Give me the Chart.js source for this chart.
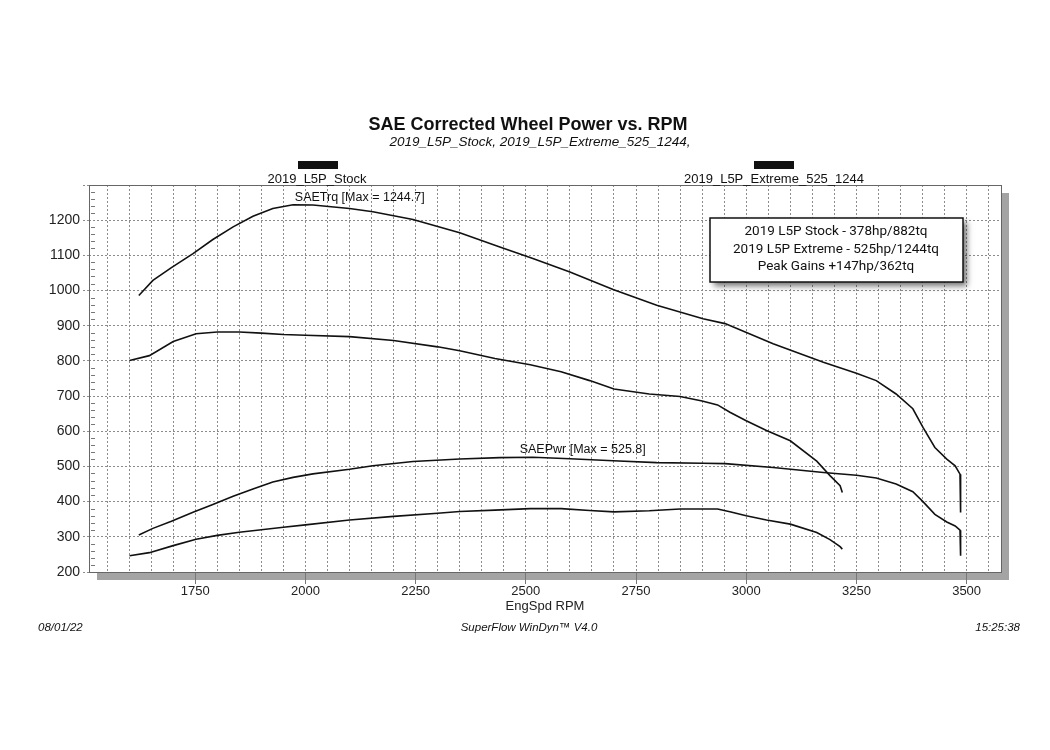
<!DOCTYPE html>
<html lang="en">
<head>
    <meta charset="UTF-8">
    <title>SAE Corrected Wheel Power vs. RPM</title>
    <script src="https://cdn.jsdelivr.net/npm/chart.js"></script>
    <style>
        body { margin: 0; background: #fff; }
    </style>
</head>
<body>
    <canvas id="myChart" width="1050" height="750"></canvas>
    <script>
        const ctx = document.getElementById('myChart').getContext('2d');

        // Stock run
        const stockRpm = [1601, 1646, 1700, 1752, 1800, 1850, 1900, 1950, 2000, 2100, 2200, 2300, 2350, 2430, 2510,
            2580, 2645, 2700, 2780, 2850, 2900, 2935, 2963, 3000, 3046, 3100, 3160, 3190, 3213, 3218];
        const stockTrq = [801, 815, 855, 877, 882, 882, 879, 875, 873, 869, 858, 840, 829, 807, 789,
            769, 744, 720, 706, 699, 686, 675, 654, 630, 602, 573, 515, 474, 445, 426];
        const stockPwr = [246, 255, 275, 293, 304, 313, 320, 327, 334, 348, 358, 367, 372, 376, 380,
            380, 375, 371, 374, 379, 379, 379, 371, 360, 348, 336, 312, 292, 272, 265];

        // Extreme tune run
        const extRpm = [1622, 1654, 1696, 1745, 1790, 1836, 1881, 1926, 1972, 2017, 2100, 2153, 2244, 2350, 2441,
            2516, 2600, 2698, 2797, 2902, 2952, 3061, 3175, 3250, 3295, 3340, 3378, 3401, 3428, 3455,
            3474, 3485, 3487, 3487, 3485];
        const extTrq = [986, 1029, 1065, 1105, 1145, 1181, 1211, 1233, 1244, 1243, 1233, 1224, 1202, 1164, 1124,
            1091, 1053, 1003, 958, 920, 906, 849, 796, 765, 744, 706, 664, 611, 554, 521,
            502, 478, 431, 400, 369];
        const extPwr = [305, 324, 344, 370, 392, 415, 436, 456, 469, 479, 492, 502, 514, 521, 525,
            526, 522, 516, 511, 509, 508, 497, 483, 475, 467, 450, 428, 400, 364, 342,
            331, 319, 288, 266, 246];

        const runNames = ['2019_L5P_Stock', '2019_L5P_Extreme_525_1244'];
        const infoLines = ['2019 L5P Stock - 378hp/882tq', '2019 L5P Extreme - 525hp/1244tq', 'Peak Gains +147hp/362tq'];

        const pts = (xs, ys) => xs.map((x, i) => ({ x: x, y: ys[i] }));
        const baseFont = '"Liberation Sans", Arial, sans-serif';

        // Extra drawing: frame, drop shadows, headings, legend bars, info box, footer
        const decorPlugin = {
            id: 'decor',
            beforeDraw: (chart) => {
                const c = chart.ctx;
                const a = chart.chartArea;
                c.save();
                c.fillStyle = '#a4a4a4';
                c.fillRect(a.left + 8, a.bottom, a.right - a.left, 8);
                c.fillRect(a.right, a.top + 8, 8, a.bottom - a.top);
                c.restore();
            },
            afterDraw: (chart) => {
                const c = chart.ctx;
                const a = chart.chartArea;
                const xs = chart.scales.x;
                const ys = chart.scales.y;
                c.save();

                // plot frame
                c.strokeStyle = '#666';
                c.lineWidth = 1;
                c.strokeRect(a.left + 0.5, a.top + 0.5, a.right - a.left, a.bottom - a.top);

                // small minor ticks inside the left edge
                c.strokeStyle = '#777';
                for (let v = 220; v < 1300; v += 20) {
                    if (v % 100 === 0) continue;
                    const y = Math.round(ys.getPixelForValue(v)) + 0.5;
                    c.beginPath();
                    c.moveTo(a.left + 2, y);
                    c.lineTo(a.left + 6, y);
                    c.stroke();
                }

                c.fillStyle = '#111';
                c.textAlign = 'center';
                c.textBaseline = 'middle';

                c.font = 'bold 18px ' + baseFont;
                c.fillText('SAE Corrected Wheel Power vs. RPM', 528, 125);
                c.font = 'italic 13.5px ' + baseFont;
                c.fillText(runNames[0] + ', ' + runNames[1] + ',', 540, 142);

                // legend bars
                c.fillRect(298, 161, 40, 8);
                c.fillRect(754, 161, 40, 8);
                c.font = '13px ' + baseFont;
                c.fillText(runNames[0], 317, 179);
                c.fillText(runNames[1], 774, 179);

                // curve labels
                c.textAlign = 'left';
                c.font = '12.5px ' + baseFont;
                c.fillText('SAETrq [Max = 1244.7]', xs.getPixelForValue(1976), ys.getPixelForValue(1265));
                c.fillText('SAEPwr [Max = 525.8]', xs.getPixelForValue(2486), ys.getPixelForValue(548));

                // info box
                c.save();
                c.shadowColor = 'rgba(0,0,0,0.55)';
                c.shadowBlur = 6;
                c.shadowOffsetX = 4;
                c.shadowOffsetY = 4;
                c.fillStyle = '#fff';
                c.fillRect(710, 218, 253, 64);
                c.restore();
                c.strokeStyle = '#111';
                c.lineWidth = 1.5;
                c.strokeRect(710, 218, 253, 64);
                c.fillStyle = '#111';
                c.textAlign = 'center';
                c.font = '13.5px Roboto, "Noto Sans", sans-serif';
                infoLines.forEach((t, i) => c.fillText(t, 836, 232 + i * 17.5));

                // footer
                c.font = 'italic 11.5px ' + baseFont;
                c.textAlign = 'left';
                c.fillText('08/01/22', 38, 628);
                c.textAlign = 'center';
                c.fillText('SuperFlow WinDyn\u2122 V4.0', 529, 628);
                c.textAlign = 'right';
                c.fillText('15:25:38', 1020, 628);

                c.restore();
            }
        };

        const lineStyle = { showLine: true, borderColor: '#111', borderWidth: 1.6, pointRadius: 0, tension: 0 };

        new Chart(ctx, {
            type: 'scatter',
            data: {
                datasets: [
                    Object.assign({ label: 'Stock SAETrq', data: pts(stockRpm, stockTrq) }, lineStyle),
                    Object.assign({ label: 'Stock SAEPwr', data: pts(stockRpm, stockPwr) }, lineStyle),
                    Object.assign({ label: 'Extreme SAETrq', data: pts(extRpm, extTrq) }, lineStyle),
                    Object.assign({ label: 'Extreme SAEPwr', data: pts(extRpm, extPwr) }, lineStyle)
                ]
            },
            options: {
                responsive: false,
                animation: false,
                layout: { padding: { left: 0, right: 49, top: 185, bottom: 136 } },
                plugins: {
                    legend: { display: false },
                    tooltip: { enabled: false }
                },
                scales: {
                    x: {
                        type: 'linear',
                        min: 1509,
                        max: 3578,
                        afterBuildTicks: (scale) => {
                            const t = [];
                            for (let v = Math.ceil(scale.min / 50) * 50; v <= scale.max; v += 50) t.push({ value: v });
                            scale.ticks = t;
                        },
                        afterFit: (scale) => { scale.height = 42; },
                        ticks: {
                            autoSkip: false,
                            maxRotation: 0,
                            padding: 0,
                            color: '#222',
                            font: { family: baseFont, size: 13 },
                            callback: (v) => (v % 250 === 0 ? v : '')
                        },
                        grid: {
                            color: '#8c8c8c',
                            tickLength: 12,
                            tickColor: (c) => (c.tick && c.tick.value % 250 === 0 ? '#777' : 'rgba(0,0,0,0)')
                        },
                        border: { display: false, dash: [2, 2] },
                        title: {
                            display: true,
                            text: 'EngSpd RPM',
                            color: '#222',
                            font: { family: baseFont, size: 13 },
                            padding: 0
                        }
                    },
                    y: {
                        min: 200,
                        max: 1300,
                        afterFit: (scale) => { scale.width = 89; },
                        ticks: {
                            stepSize: 100,
                            padding: 3,
                            color: '#222',
                            font: { family: baseFont, size: 14 },
                            callback: (v) => (v === 1300 ? '' : v)
                        },
                        grid: {
                            color: '#8c8c8c',
                            tickLength: 6,
                            tickColor: '#8c8c8c',
                            tickBorderDash: [2, 2]
                        },
                        border: { display: false, dash: [2, 2] }
                    }
                }
            },
            plugins: [decorPlugin]
        });
    </script>
</body>
</html>
